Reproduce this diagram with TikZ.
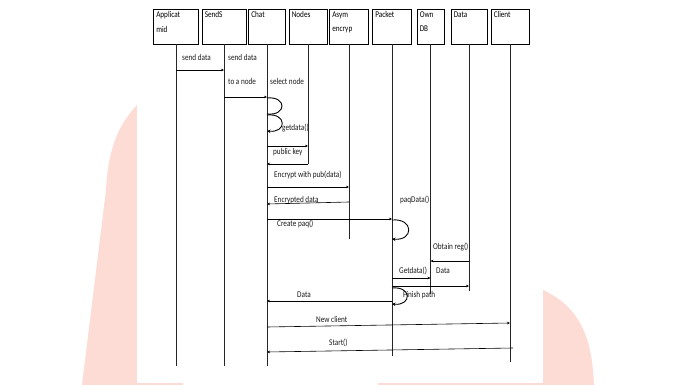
\documentclass[tikz,border=0pt]{standalone}
\usepackage{fontspec}
\setmainfont{Carlito}[FakeStretch=0.82]
\usetikzlibrary{arrows.meta}

\definecolor{wmpink}{RGB}{253,220,214}

\begin{document}
\begin{tikzpicture}[x=1pt, y=-1pt, font=\fontsize{8.8}{10}\selectfont,
  hbox/.style={draw, line width=0.9pt, minimum height=35pt, inner sep=0pt},
  hlabel/.style={anchor=north west, inner sep=3pt, align=left, font=\fontsize{8.8}{14.5}\selectfont},
  life/.style={line width=0.7pt, black!85},
  msg/.style={line width=0.6pt, -{Stealth[length=3pt, width=2.6pt]}},
  loopy/.style={line width=0.9pt},
  lbl/.style={anchor=west, inner sep=0pt, text=black!90}]
  \useasboundingbox (0,0) rectangle (697,385);

  % watermark behind the page
  \fill[wmpink] (137,105) .. controls (118,125) and (108,150) .. (106,190)
    -- (82,385) -- (183,385) -- (183,105) -- cycle;
  \fill[wmpink] (543,290) .. controls (575,305) and (592,330) .. (594,385)
    -- (378,385) -- (378,290) -- cycle;
  \fill[white] (137,0) rectangle (543,383);

  % lifeline heads
  \node[hbox, minimum width=45pt, label={[hlabel]north west:Applicat\\mid}] (app) at (176,26.5) {};
  \node[hbox, minimum width=44pt, label={[hlabel]north west:SendS}] (sends) at (224,26.5) {};
  \node[hbox, minimum width=37pt, label={[hlabel]north west:Chat}] (chat) at (267,26.5) {};
  \node[hbox, minimum width=38pt, label={[hlabel]north west:Nodes}] (nodes) at (308,26.5) {};
  \node[hbox, minimum width=39pt, label={[hlabel]north west:Asym\\encryp}] (asym) at (349,26.5) {};
  \node[hbox, minimum width=39pt, label={[hlabel]north west:Packet}] (packet) at (392,26.5) {};
  \node[hbox, minimum width=27pt, label={[hlabel]north west:Own\\DB}] (owndb) at (430.5,26.5) {};
  \node[hbox, minimum width=36pt, label={[hlabel]north west:Data}] (data) at (469,26.5) {};
  \node[hbox, minimum width=38pt, label={[hlabel]north west:Client}] (client) at (510,26.5) {};

  % lifelines
  \draw[life] (app.south) -- (app.south |- 0,366);
  \draw[life] (sends.south) -- (sends.south |- 0,366);
  \draw[life] (chat.south) -- (chat.south |- 0,366);
  \draw[life] (nodes.south) -- (nodes.south |- 0,164);
  \draw[life] (asym.south) -- (asym.south |- 0,239);
  \draw[life] (packet.south) -- (packet.south |- 0,356);
  \draw[life] (owndb.south) -- (owndb.south |- 0,294);
  \draw[life] (data.south) -- (data.south |- 0,291);
  \draw[life] (client.south) -- (client.south |- 0,362);

  % messages
  \draw[msg] (app.south |- 0,70) -- (sends.south |- 0,70);
  \draw[msg] (sends.south |- 0,97) -- (chat.south |- 0,97);
  \draw[loopy] (chat.south |- 0,98) .. controls +(20,-2) and +(20,2) .. (chat.south |- 0,114);
  \draw[loopy, -{Stealth[length=3.5pt, width=3.5pt]}] (chat.south |- 0,115) .. controls +(20,-2) and +(20,2) .. (chat.south |- 0,131);
  \draw[msg] (chat.south |- 0,146) -- (nodes.south |- 0,146);
  \draw[msg] (nodes.south |- 0,164) -- (chat.south |- 0,164);
  \draw[msg] (chat.south |- 0,187) -- (asym.south |- 0,187);
  \draw[msg] (asym.south |- 0,202) -- (chat.south |- 0,204);
  \draw[msg] (chat.south |- 0,219) -- (packet.south |- 0,219);
  \draw[loopy, -{Stealth[length=3.5pt, width=3.5pt]}] (packet.south |- 0,220) .. controls +(22,-2) and +(22,2) .. (packet.south |- 0,239);
  \draw[msg] (data.south |- 0,261) -- (owndb.south |- 0,261);
  \draw[msg] (packet.south |- 0,278) -- (owndb.south |- 0,278);
  \draw[msg] (packet.south |- 0,286) -- (data.south |- 0,286);
  \draw[loopy, -{Stealth[length=3.5pt, width=3.5pt]}] (packet.south |- 0,288) .. controls +(20,-2) and +(20,2) .. (packet.south |- 0,304);
  \draw[msg] (packet.south |- 0,301) -- (chat.south |- 0,301);
  \draw[msg] (chat.south |- 0,327) -- (client.south |- 0,323);
  \coordinate (cl-start) at (513,348);
  \draw[msg] (cl-start) -- (chat.south |- 0,352);

  % message texts
  \node[lbl] (t-send1) at (182,57) {send data};
  \node[lbl] (t-send2) at (228,57) {send data};
  \node[lbl] (t-tonode) at (228,81) {to a node};
  \node[lbl] (t-select) at (270,81) {select node};
  \node[lbl] (t-getdata) at (282,128) {getdata()};
  \node[lbl] (t-pubkey) at (273,152) {public key};
  \node[lbl] (t-encrypt) at (274,175) {Encrypt with pub(data)};
  \node[lbl] (t-encdata) at (274,200) {Encrypted data};
  \node[lbl] (t-paqdata) at (400,200) {paqData()};
  \node[lbl] (t-create) at (277,224) {Create paq()};
  \node[lbl] (t-obtain) at (433,247) {Obtain reg()};
  \node[lbl] (t-getdata2) at (399,271) {Getdata()};
  \node[lbl] (t-data1) at (436,271) {Data};
  \node[lbl] (t-finish) at (403,295) {Finish path};
  \node[lbl] (t-data2) at (297,295) {Data};
  \node[lbl] (t-newcl) at (316,319) {New client};
  \node[lbl] (t-start) at (329,343) {Start()};
\end{tikzpicture}
\end{document}
